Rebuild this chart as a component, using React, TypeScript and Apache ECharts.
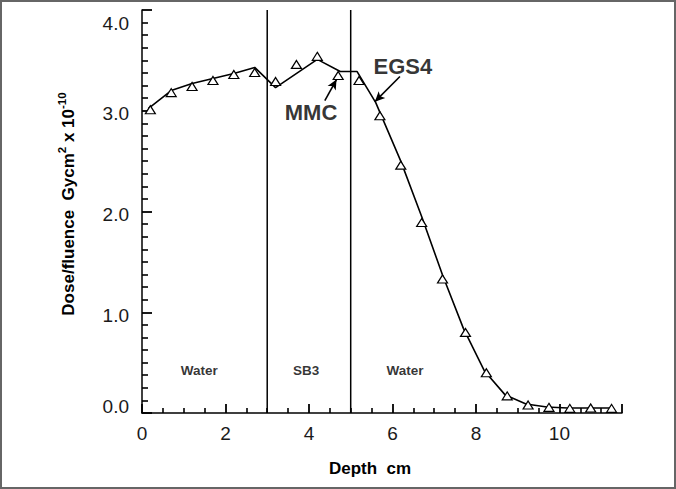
import React, { useEffect, useRef } from "react";
import * as echarts from "echarts";

// Monte Carlo (triangles) depth-dose points
const triDepth = [0.2, 0.7, 1.2, 1.7, 2.2, 2.7, 3.2, 3.7, 4.2, 4.7, 5.2, 5.7, 6.2, 6.7, 7.2, 7.75, 8.25, 8.75, 9.25, 9.75, 10.25, 10.75, 11.25];
const triDose = [3.01, 3.18, 3.24, 3.30, 3.36, 3.38, 3.29, 3.46, 3.54, 3.35, 3.30, 2.95, 2.46, 1.89, 1.33, 0.80, 0.40, 0.17, 0.08, 0.056, 0.046, 0.05, 0.046];

// Solid-line curve
const lineDepth = [0.15, 0.7, 1.2, 1.7, 2.2, 2.7, 3.2, 4.2, 4.75, 5.15, 5.6, 6.2, 6.7, 7.2, 7.7, 8.2, 8.7, 9.2, 9.7, 10.2, 10.7, 11.25];
const lineDose = [3.02, 3.20, 3.27, 3.32, 3.37, 3.43, 3.23, 3.51, 3.39, 3.39, 3.08, 2.50, 1.95, 1.37, 0.84, 0.42, 0.18, 0.09, 0.06, 0.05, 0.05, 0.05];

// Material boundaries (cm)
const boundaries = [3, 5];

// Axis tick labels
const xLabelValues = [0, 2, 4, 6, 8, 10];

// Region / curve labels
const labelTexts = ["Water", "SB3", "Water", "MMC", "EGS4"];
const labelDepth = [1.37, 3.93, 6.3, 4.05, 6.25];
const labelDose = [0.42, 0.42, 0.42, 2.98, 3.44];
const labelSizes = [13.5, 13.5, 13.5, 22, 22];

// Arrows: [fromDepth, fromDose, toDepth, toDose]
const arrows = [
  [4.38, 3.10, 4.66, 3.31],
  [6.18, 3.34, 5.58, 3.09],
];

const FONT = "'Liberation Sans', Arial, sans-serif";
const INK = "#000";

export default function App() {
  const ref = useRef<HTMLDivElement>(null);
  useEffect(() => {
    if (!ref.current) return;
    const chart = echarts.init(ref.current, undefined, { renderer: "svg" });
    const yLabelFmt = (v: number) => {
      if (v === 4) return "{t|4.0}";
      if (v === 0) return "{b|0.0}";
      return "{m|" + v.toFixed(1) + "}";
    };
    const yRichBase = { fontSize: 19, fontFamily: FONT, color: "#1a1a1a" };
    chart.setOption({
      animation: false,
      grid: { left: 142, top: 10, right: 54, bottom: 76 },
      xAxis: {
        type: "value",
        min: 0,
        max: 11.5,
        interval: 2,
        axisLine: { show: true, lineStyle: { color: INK, width: 1.5 } },
        axisTick: { show: true, inside: true, length: 9, lineStyle: { color: INK, width: 1.8 } },
        minorTick: { show: true, splitNumber: 4, length: 5, lineStyle: { color: INK, width: 1.6 } },
        axisLabel: { show: true, customValues: xLabelValues, margin: 11, fontSize: 19, fontFamily: FONT, color: "#1a1a1a" },
        splitLine: { show: false },
        minorSplitLine: { show: false },
      },
      yAxis: {
        type: "value",
        min: 0,
        max: 4,
        interval: 1,
        axisLine: { show: true, lineStyle: { color: INK, width: 1.5 } },
        axisTick: { show: true, inside: true, length: 10, lineStyle: { color: INK, width: 1.8 } },
        minorTick: { show: true, splitNumber: 8, length: 6, lineStyle: { color: INK, width: 1.6 } },
        axisLabel: {
          margin: 13,
          formatter: yLabelFmt,
          rich: {
            t: { ...yRichBase, padding: [26, 0, 0, 0] },
            b: { ...yRichBase, padding: [0, 0, 14, 0] },
            m: { ...yRichBase, padding: [6, 0, 0, 0] },
          },
        },
        splitLine: { show: false },
        minorSplitLine: { show: false },
      },
      graphic: [
        {
          type: "text",
          x: 68,
          y: 204,
          rotation: Math.PI / 2,
          style: {
            text: "{a|Dose/fluence  Gycm}{s|2}{a| x 10}{s|-10}",
            align: "center",
            verticalAlign: "middle",
            rich: {
              a: { fontSize: 17, fontWeight: "bold", fontFamily: FONT, fill: INK, lineHeight: 24 },
              s: { fontSize: 11.5, fontWeight: "bold", fontFamily: FONT, fill: INK, lineHeight: 10, verticalAlign: "top" },
            },
          },
        },
        {
          type: "text",
          x: 370,
          y: 468,
          style: {
            text: "Depth  cm",
            align: "center",
            verticalAlign: "middle",
            fontSize: 17,
            fontWeight: "bold",
            fontFamily: FONT,
            fill: INK,
          },
        },
      ],
      series: [
        ...boundaries.map((b) => ({
          type: "line",
          data: [[b, 0], [b, 4]],
          symbol: "none",
          lineStyle: { color: INK, width: 1.5 },
          silent: true,
          z: 1,
        })),
        {
          name: "EGS4",
          type: "line",
          data: lineDepth.map((d, i) => [d, lineDose[i]]),
          symbol: "none",
          lineStyle: { color: INK, width: 1.6 },
          z: 2,
          markLine: {
            silent: true,
            symbol: ["none", "arrow"],
            symbolSize: [7, 10],
            label: { show: false },
            lineStyle: { color: INK, width: 1.6, type: "solid" },
            data: arrows.map((a) => [{ coord: [a[0], a[1]] }, { coord: [a[2], a[3]] }]),
          },
        },
        {
          name: "MMC",
          type: "scatter",
          data: triDepth.map((d, i) => [d, triDose[i]]),
          symbol: "triangle",
          symbolSize: [10, 8],
          itemStyle: { color: "#fff", borderColor: INK, borderWidth: 1.2, opacity: 1 },
          z: 3,
        },
        {
          type: "scatter",
          data: labelTexts.map((t, i) => ({
            name: t,
            value: [labelDepth[i], labelDose[i]],
            label: { fontSize: labelSizes[i] },
          })),
          symbolSize: 1,
          itemStyle: { color: "rgba(0,0,0,0)" },
          label: {
            show: true,
            position: "inside",
            formatter: (p: any) => p.name,
            fontWeight: "bold",
            fontFamily: FONT,
            color: "#000",
            textBorderWidth: 0,
          },
          silent: true,
          z: 4,
        },
      ],
    });
    return () => chart.dispose();
  }, []);
  return (
    <div style={{ position: "fixed", left: 0, top: 0, width: 676, height: 489, background: "#fff" }}>
      <div
        style={{
          position: "absolute",
          left: 0,
          top: 0,
          width: 676,
          height: 489,
          boxSizing: "border-box",
          border: "2px solid #666",
        }}
      />
      <div ref={ref} style={{ position: "absolute", left: 0, top: 0, width: 676, height: 489 }} />
    </div>
  );
}
